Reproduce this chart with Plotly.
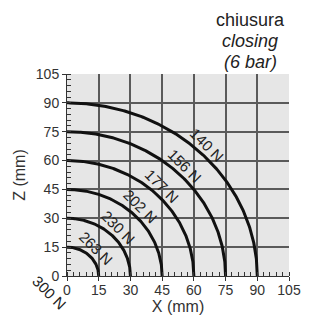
import numpy as np
import plotly.graph_objects as go

# data
radii = [15, 30, 45, 60, 75, 90]
forces = ["263 N", "230 N", "202 N", "177 N", "156 N", "140 N"]
origin_force = "300 N"
ticks = [0, 15, 30, 45, 60, 75, 90, 105]
title_lines = ["chiusura", "<i>closing</i>", "<i>(6 bar)</i>"]

XMAX = 105.0
BODY = 8  # default page margin of the browser
PL, PR, PT, PB = 67, 289, 74, 276  # plot area in window pixels
W, H = 313 - BODY, 322 - BODY

fig = go.Figure()
theta = np.linspace(0, np.pi / 2, 200)
for r in radii:
    fig.add_trace(go.Scatter(x=r * np.cos(theta), y=r * np.sin(theta), mode="lines",
                             line=dict(color="#111111", width=3), hoverinfo="skip",
                             showlegend=False))

ang = np.deg2rad(46)
off = 5.0
for r, t in zip(radii, forces):
    rr = r + off
    fig.add_annotation(x=rr * np.cos(ang), y=rr * np.sin(ang), text=t, textangle=45,
                       showarrow=False, xref="x", yref="y", xanchor="center",
                       yanchor="middle", font=dict(size=15, color="#222222"))
fig.add_annotation(x=-8.5 / XMAX, y=-8.8 / XMAX, text=origin_force, textangle=45,
                   showarrow=False, xref="paper", yref="paper", xanchor="center",
                   yanchor="middle", font=dict(size=15, color="#222222"))

pw, ph = PR - PL, PB - PT
ys = [1 + (PT - py) / ph for py in (19.5, 41, 62.5)]
for txt, yy in zip(title_lines, ys):
    fig.add_annotation(x=(250 - PL) / pw, y=yy, xref="paper", yref="paper", text=txt,
                       showarrow=False, xanchor="center", yanchor="middle", borderpad=0,
                       font=dict(size=18, color="#222222"))

axis_common = dict(range=[0, XMAX], tickvals=ticks, showgrid=True, gridcolor="#5a5a5a",
                   gridwidth=1.5, zeroline=False, showline=True, linecolor="#333333",
                   linewidth=1, ticks="outside", ticklen=4, tickcolor="#333333",
                   tickfont=dict(size=14, color="#333333"),
                   minor=dict(dtick=3, ticks="inside", ticklen=4, tickcolor="#333333",
                              showgrid=False),
                   fixedrange=True, automargin=False)

fig.update_layout(
    width=W, height=H,
    margin=dict(l=PL - BODY, r=W - (PR - BODY), t=PT - BODY, b=H - (PB - BODY)),
    paper_bgcolor="white", plot_bgcolor="#e6e6e6",
    font=dict(family="Liberation Sans, Arial, sans-serif", color="#333333"),
    xaxis=dict(**axis_common, ticklabelstandoff=-3,
               title=dict(text="X (mm)", font=dict(size=16), standoff=2)),
    yaxis=dict(**axis_common, title=dict(text="Z (mm)", font=dict(size=16), standoff=6)),
    showlegend=False,
)

fig.write_html("out.html")
